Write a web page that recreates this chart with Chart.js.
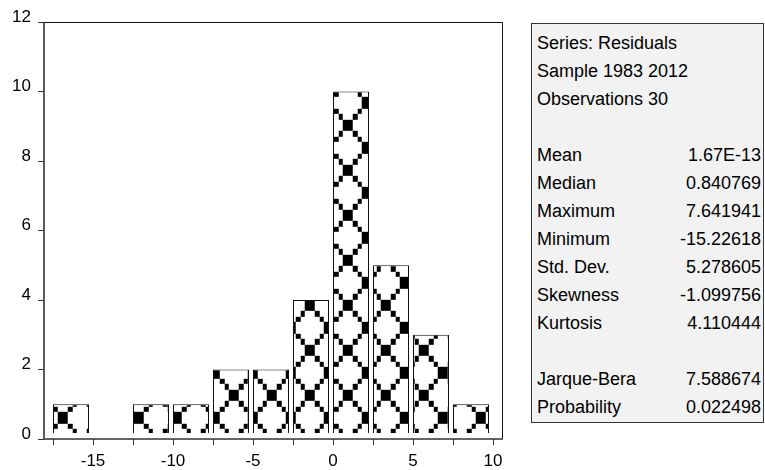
<!DOCTYPE html>
<html><head><meta charset="utf-8">
<script src="https://cdn.jsdelivr.net/npm/chart.js@4.4.1/dist/chart.umd.min.js"></script>
<style>
html,body{margin:0;padding:0;background:#fff;}
#wrap{position:relative;width:765px;height:470px;overflow:hidden;background:#fff;}
#c{position:absolute;left:0;top:0;}
#stats{position:absolute;left:531px;top:23px;width:233px;height:400px;box-sizing:border-box;border:1px solid #333;background:#f2f2f2;padding:5px 2px 0 5px;font-family:"Liberation Sans",Arial,sans-serif;font-size:18px;line-height:28px;color:#000;}
.row{display:flex;justify-content:space-between;height:28px;white-space:nowrap;}
</style></head>
<body><div id="wrap"><canvas id="c" width="765" height="470"></canvas><div id="stats"></div></div>
<script>
// ---- data ----
const binEdges = [-17.5, -15, -12.5, -10, -7.5, -5, -2.5, 0, 2.5, 5, 7.5];
const binWidth = 2.5;
const counts = [1, 0, 1, 1, 2, 2, 4, 10, 5, 3, 1];
const xTickValues = [-17.5, -15, -12.5, -10, -7.5, -5, -2.5, 0, 2.5, 5, 7.5, 10];
const xTickLabels = ['', '-15', '', '-10', '', '-5', '', '0', '', '5', '', '10'];
const yTickValues = [0, 2, 4, 6, 8, 10, 12];
const headerLines = ['Series: Residuals', 'Sample 1983 2012', 'Observations 30'];
const statNames = ['Mean', 'Median', 'Maximum', 'Minimum', 'Std. Dev.', 'Skewness', 'Kurtosis'];
const statValues = ['1.67E-13', '0.840769', '7.641941', '-15.22618', '5.278605', '-1.099756', '4.110444'];
const testNames = ['Jarque-Bera', 'Probability'];
const testValues = ['7.588674', '0.022498'];

// ---- stats box ----
const box = document.getElementById('stats');
function addRow(a, b) {
  const r = document.createElement('div'); r.className = 'row';
  const s1 = document.createElement('span'); s1.textContent = a;
  const s2 = document.createElement('span'); s2.textContent = b;
  r.appendChild(s1); r.appendChild(s2); box.appendChild(r);
}
headerLines.forEach(t => addRow(t, ''));
addRow('\u00a0', '');
statNames.forEach((n, i) => addRow(n, statValues[i]));
addRow('\u00a0', '');
testNames.forEach((n, i) => addRow(n, testValues[i]));

// ---- hatch pattern (diagonal cross bitmap) ----
const bits = ['10000001','01000010','00100100','00011000','00011000','00100100','01000010','10000001'];
const TW = 38, TH = 45;
const tile = document.createElement('canvas'); tile.width = TW; tile.height = TH;
const tctx = tile.getContext('2d');
tctx.fillStyle = '#fff'; tctx.fillRect(0, 0, TW, TH);
tctx.fillStyle = '#000';
for (let r = 0; r < 8; r++) for (let c = 0; c < 8; c++) {
  if (bits[r][c] === '1') {
    const x0 = Math.round(c * TW / 8), x1 = Math.round((c + 1) * TW / 8);
    const y0 = Math.round(r * TH / 8), y1 = Math.round((r + 1) * TH / 8);
    tctx.fillRect(x0, y0, x1 - x0, y1 - y0);
  }
}
const mainCtx = document.getElementById('c').getContext('2d');
const pattern = mainCtx.createPattern(tile, 'repeat');
pattern.setTransform(new DOMMatrix([1, 0, 0, 1, 24.7, 12.8]));

const BAR_FLOOR = 0.17;
const barData = counts.map((c, i) => c > 0 ? { x: binEdges[i] + binWidth * 0.45, y: [BAR_FLOOR, c] } : null).filter(Boolean);

Chart.defaults.font.family = '"Liberation Sans", Arial, sans-serif';
Chart.defaults.color = '#000';

const framePlugin = {
  id: 'frame',
  afterDraw(chart) {
    const { ctx, chartArea: a } = chart;
    ctx.save();
    ctx.strokeStyle = '#111'; ctx.lineWidth = 1;
    ctx.beginPath();
    ctx.moveTo(a.left, a.top + 0.5); ctx.lineTo(a.right + 0.5, a.top + 0.5);
    ctx.lineTo(a.right + 0.5, a.bottom);
    ctx.stroke();
    ctx.strokeStyle = '#333'; ctx.lineWidth = 1.6;
    ctx.beginPath();
    ctx.moveTo(a.left, a.top); ctx.lineTo(a.left, a.bottom); ctx.lineTo(a.right + 1, a.bottom);
    ctx.stroke();
    ctx.restore();
  }
};

new Chart(mainCtx, {
  type: 'bar',
  data: {
    datasets: [{
      data: barData,
      backgroundColor: pattern,
      borderColor: '#111',
      borderWidth: 1,
      barPercentage: 0.9,
      categoryPercentage: 1.0
    }]
  },
  options: {
    responsive: false,
    animation: false,
    layout: { padding: { left: 0, top: 22, right: 263, bottom: 0 } },
    plugins: { legend: { display: false }, tooltip: { enabled: false } },
    scales: {
      x: {
        type: 'linear',
        offset: false,
        min: -18.0625, max: 10.5625,
        afterBuildTicks: s => { s.ticks = xTickValues.map(v => ({ value: v })); },
        afterFit: s => { s.height = 31; },
        ticks: {
          autoSkip: false, maxRotation: 0, padding: 6,
          font: { size: 17 }, color: '#000',
          callback: (v, i) => xTickLabels[i]
        },
        grid: { offset: false, drawOnChartArea: false, drawTicks: true, tickLength: 6, color: '#333' },
        border: { display: false }
      },
      y: {
        min: 0, max: 12,
        afterBuildTicks: s => { s.ticks = yTickValues.map(v => ({ value: v })); },
        afterFit: s => { s.width = 44; },
        ticks: { padding: 7, labelOffset: -5, font: { size: 17 }, color: '#000' },
        grid: { drawOnChartArea: false, drawTicks: true, tickLength: 6, color: '#333' },
        border: { display: false }
      }
    }
  },
  plugins: [framePlugin]
});
</script>
</body></html>
